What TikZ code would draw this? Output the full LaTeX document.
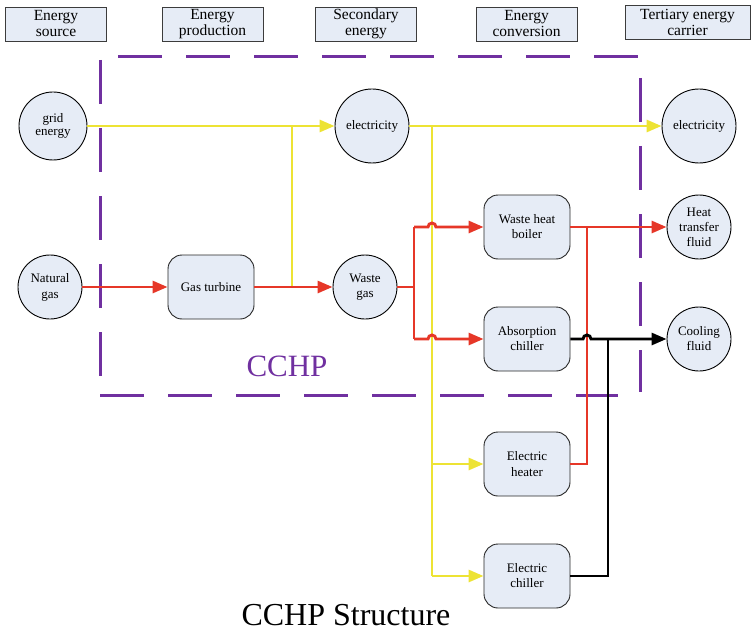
\documentclass[tikz,border=0pt]{standalone}
\usepackage{fontspec}
\setmainfont{Liberation Serif}
\usetikzlibrary{arrows.meta}
\definecolor{nodefill}{RGB}{230,236,246}
\definecolor{cyel}{RGB}{237,227,52}
\definecolor{cred}{RGB}{230,55,40}
\definecolor{cpurp}{RGB}{112,48,160}
\definecolor{hdr}{RGB}{60,60,60}
\tikzset{
  hdrbox/.style={draw=hdr, line width=0.9pt, fill=nodefill, minimum width=101pt, minimum height=34pt, inner sep=0pt, align=center, font=\fontsize{15.5}{16}\selectfont},
  circ/.style={circle, draw=black, line width=0.9pt, fill=nodefill, inner sep=0pt, align=center, font=\fontsize{13}{15}\selectfont},
  rbox/.style={rectangle, rounded corners=14pt, draw=black!85, line width=0.9pt, fill=nodefill, minimum width=86pt, minimum height=64pt, inner sep=0pt, align=center, font=\fontsize{13}{15}\selectfont},
  tip/.style={-{Triangle[length=15pt,width=12pt]}},
  yline/.style={draw=cyel, line width=2.9pt},
  rline/.style={draw=cred, line width=2.9pt},
  bline/.style={draw=black, line width=2.9pt},
  pdash/.style={draw=cpurp, line width=3pt, dash pattern=on 44pt off 24pt},
}
\begin{document}
\begin{tikzpicture}[x=1pt,y=-1pt]
\useasboundingbox (0,0) rectangle (754,631);
% headers
\node[hdrbox] (h1) at (56,24) {Energy\\source};
\node[hdrbox] (h2) at (212.5,24) {Energy\\production};
\node[hdrbox] (h3) at (366,24) {Secondary\\energy};
\node[hdrbox] (h4) at (526.5,24) {Energy\\conversion};
\node[hdrbox, minimum width=125pt] (h5) at (687.5,22) {Tertiary energy\\carrier};
% CCHP dashed boundary
\coordinate (pt1) at (118,57); \coordinate (pt2) at (640,57);
\coordinate (pl1) at (100,60); \coordinate (pl2) at (100,376);
\coordinate (pb1) at (100,395); \coordinate (pb2) at (618,395);
\coordinate (pr1) at (640,78); \coordinate (pr2) at (640,392);
\draw[pdash] (pt1) -- (pt2);
\draw[pdash] (pl1) -- (pl2);
\draw[pdash] (pb1) -- (pb2);
\draw[pdash] (pr1) -- (pr2);
\node[text=cpurp, anchor=base, font=\fontsize{31}{31}\selectfont] (cchp) at (287,376) {CCHP};
% nodes
\node[circ, minimum size=68pt, font=\fontsize{13}{12.5}\selectfont] (grid) at (53,126) {grid\\energy};
\node[circ, minimum size=64pt, font=\fontsize{13}{16}\selectfont] (ng) at (50,287) {Natural\\gas};
\node[rbox] (gt) at (211,287) {Gas turbine};
\node[circ, minimum size=74pt] (el2) at (372,126) {electricity};
\node[circ, minimum size=64pt] (wg) at (365,287) {Waste\\gas};
\node[circ, minimum size=74pt] (el3) at (699,126) {electricity};
\node[circ, minimum size=64pt] (htf) at (699,227) {Heat\\transfer\\fluid};
\node[circ, minimum size=64pt] (cool) at (699,339) {Cooling\\fluid};
\node[rbox] (whb) at (527,227) {Waste heat\\boiler};
\node[rbox] (abs) at (527,339) {Absorption\\chiller};
\node[rbox, font=\fontsize{13}{16}\selectfont] (eh) at (527,464) {Electric\\heater};
\node[rbox] (ec) at (527,576) {Electric\\chiller};
% junction coordinates
\coordinate (jy1) at (292,126);
\coordinate (jy2) at (432,126);
\coordinate (jr1) at (414,287);
\coordinate (jr2) at (587,227);
\coordinate (jb1) at (608,339);
% yellow
\draw[yline] (jy1) -- (jy1 |- wg);
\draw[yline] (jy2) -- (jy2 |- ec);
\draw[yline, tip] (grid.east) -- (el2.west);
\draw[yline, tip] (el2.east) -- (el3.west);
\draw[yline, tip] (jy2 |- eh) -- (eh.west);
\draw[yline, tip] (jy2 |- ec) -- (ec.west);
% red
\draw[rline, tip] (ng.east) -- (gt.west);
\draw[rline, tip] (gt.east) -- (wg.west);
\draw[rline] (wg.east) -- (jr1);
\draw[rline] (jr1 |- whb) -- (jr1 |- abs);
\draw[rline, tip] (jr1 |- whb) -- ([xshift=-4pt]jy2 |- whb) arc (180:360:4) -- (whb.west);
\draw[rline, tip] (jr1 |- abs) -- ([xshift=-4pt]jy2 |- abs) arc (180:360:4) -- (abs.west);
\draw[rline, tip] (whb.east) -- (htf.west);
\draw[rline] (eh.east) -- (jr2 |- eh) -- (jr2);
% black
\draw[bline] (ec.east) -- (jb1 |- ec) -- (jb1);
\draw[bline, tip] (abs.east) -- ([xshift=-4pt]jr2 |- abs) arc (180:360:4) -- (cool.west);
% title
\node[anchor=base, font=\fontsize{32}{32}\selectfont] (title) at (346,625) {CCHP Structure};
\end{tikzpicture}
\end{document}
